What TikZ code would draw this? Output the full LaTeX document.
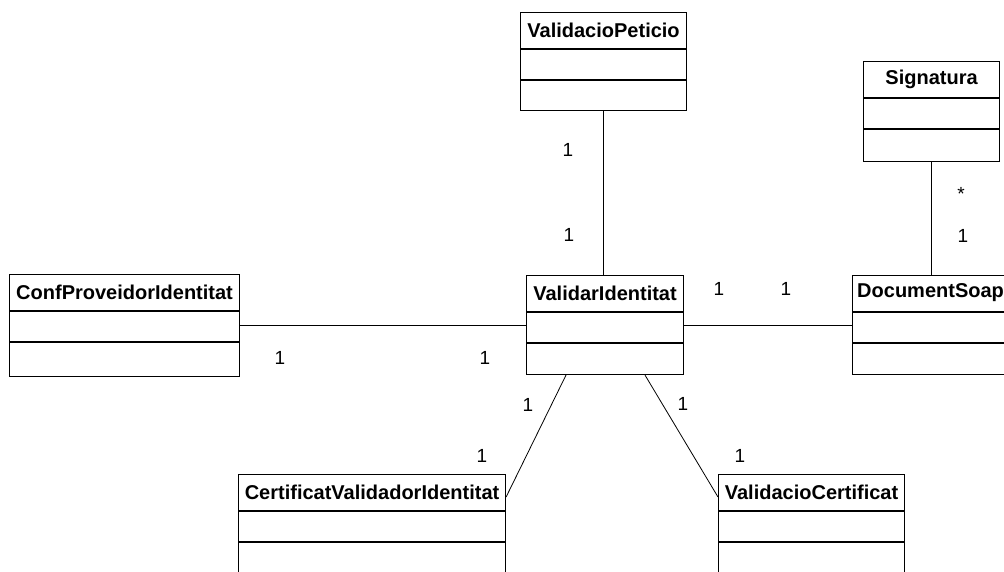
\documentclass[tikz,border=0pt]{standalone}
\usepackage{fontspec}
\setmainfont{Liberation Sans}
\usetikzlibrary{calc}
\tikzset{
  classbox/.style={draw, line width=1.1pt, rectangle, inner sep=0pt, anchor=north west},
  divider/.style={line width=1.1pt},
  classtitle/.style={font=\fontsize{20}{21}\selectfont\bfseries, inner sep=0pt},
  assoc/.style={line width=0.8pt},
  mult/.style={font=\fontsize{19}{20}\selectfont, inner sep=0pt},
}
\newcommand\umlbox[6]{%
  \node[classbox, minimum width=#4pt, minimum height=#5pt] (#1) at (#2,#3) {};
  \draw[divider] ($(#1.north west)+(0,37)$) -- ($(#1.north east)+(0,37)$);
  \draw[divider] ($(#1.north west)+(0,68)$) -- ($(#1.north east)+(0,68)$);
  \node[classtitle] (#1t) at ($(#1.north)+(0,18)$) {#6};
}
\begin{document}
\begin{tikzpicture}[x=1pt,y=-1pt]
\useasboundingbox (0,0) rectangle (1004,571);
\clip (0,0) rectangle (1004,571);
\umlbox{vp}{520}{12}{166}{98}{ValidacioPeticio}
\umlbox{sig}{863}{61}{136}{100}{Signatura}
\umlbox{conf}{9}{274}{230}{102}{ConfProveidorIdentitat}
\umlbox{vi}{526}{275}{157}{99}{ValidarIdentitat}
\umlbox{ds}{852}{275}{156}{99}{DocumentSoap}
\umlbox{cvi}{238}{474}{267}{110}{CertificatValidadorIdentitat}
\umlbox{vc}{718}{474}{186}{110}{ValidacioCertificat}
% connectors
\draw[assoc] (vp.south) -- (vp.south |- vi.north);
\draw[assoc] (conf.east) -- (conf.east -| vi.west);
\draw[assoc] (vi.east) -- (vi.east -| ds.west);
\draw[assoc] (sig.south) -- (sig.south |- ds.north);
\draw[assoc] ($(vi.south west)+(40,0)$) -- ($(cvi.north east)+(0,23)$);
\draw[assoc] ($(vi.south west)+(119,0)$) -- ($(vc.north west)+(0,23)$);
% multiplicities
\node[mult] (m1) at (568,150) {1};
\node[mult] (m2) at (569,235) {1};
\node[mult] (m3) at (280,358) {1};
\node[mult] (m4) at (485,358) {1};
\node[mult] (m5) at (719,289) {1};
\node[mult] (m6) at (786,289) {1};
\node[mult] (m7) at (961,194) {*};
\node[mult] (m8) at (963,236) {1};
\node[mult] (m9) at (528,405) {1};
\node[mult] (m10) at (482,456) {1};
\node[mult] (m11) at (683,404) {1};
\node[mult] (m12) at (740,456) {1};
\end{tikzpicture}
\end{document}
